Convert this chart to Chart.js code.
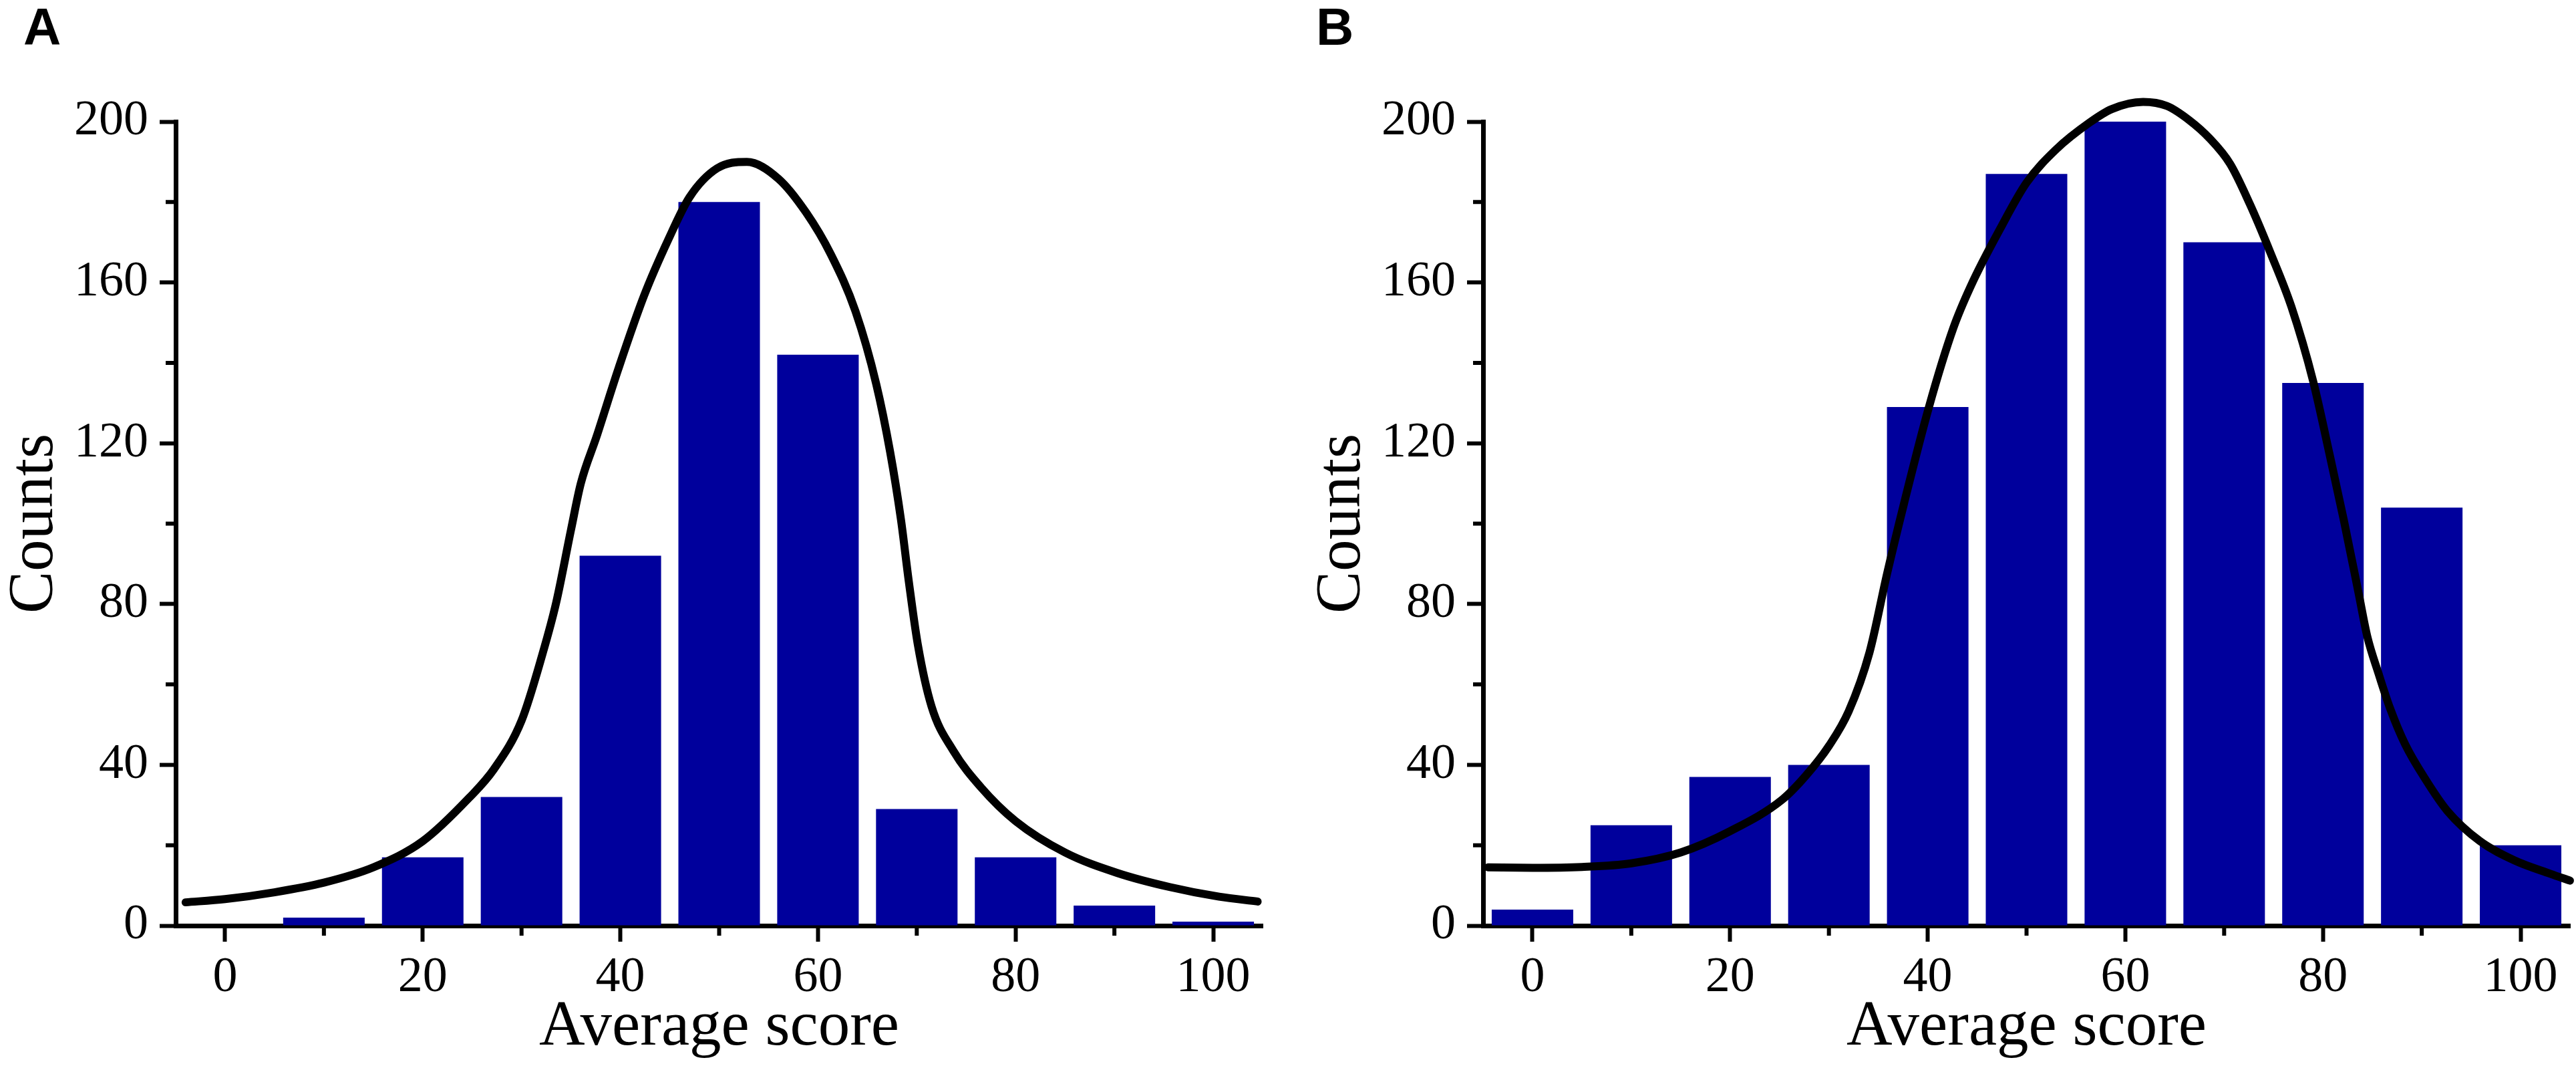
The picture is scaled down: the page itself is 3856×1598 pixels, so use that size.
<!DOCTYPE html>
<html>
<head>
<meta charset="utf-8">
<script src="https://cdn.jsdelivr.net/npm/chart.js@4.4.1/dist/chart.umd.min.js"></script>
<style>
  html, body { margin: 0; padding: 0; background: #fff; }
  #wrap { position: relative; width: 3856px; height: 1598px; overflow: hidden; background: #fff; }
  canvas { position: absolute; top: 0; }
  #panelA { left: 0; }
  #panelB { left: 1957px; }
</style>
</head>
<body>
<div id="wrap">
  <canvas id="panelA" width="1928" height="1598"></canvas>
  <canvas id="panelB" width="1899" height="1598"></canvas>
</div>
<script>
// histogram bins (average score) and counts per panel
const scoreBins = [0, 10, 20, 30, 40, 50, 60, 70, 80, 90, 100];
const countsA = [0, 2, 17, 32, 92, 180, 142, 29, 17, 5, 1];
const countsB = [4, 25, 37, 40, 129, 187, 200, 170, 135, 104, 20];

// fitted curves
const fitAx = [-4, 0, 5, 10, 15, 20, 24.7, 27.2, 30, 32.1, 33.5, 35, 36, 37.6, 39.8, 42.4, 44.9, 47, 49.8, 52.8,
               56, 58.8, 61.3, 63.8, 65.9, 67.3, 68.4, 69.2, 70.1, 71.5, 73.7, 76.5, 80, 85, 90.3, 95.6, 100.6, 104.5];
const fitAy = [5.8, 6.6, 8.3, 10.7, 14.5, 21, 31.8, 38.9, 51, 67.4, 80.3, 98.4, 110, 121.7, 138.5, 156.7, 170.9, 181.2, 188.4, 190,
               185.8, 177.4, 167, 152.8, 134.7, 117.9, 101, 85.5, 70, 54.5, 43.5, 34.4, 26, 18.2, 13.1, 9.6, 7.2, 6];
const fitBx = [-4.5, 0, 5, 10, 15, 20, 25.3, 27.7, 30, 32, 34.1, 35.9, 37.6, 40.1, 42.6, 44.4, 47.3, 50, 53, 56.4, 58.6, 61.8,
               64.2, 66.5, 68.5, 70.6, 72.6, 74.7, 76.8, 79, 80.7, 82.1, 83.6, 84.5, 85.6, 86.8, 88.3, 90.4, 92.6, 95.9, 99.4, 103, 105];
const fitBy = [14.5, 14.4, 14.6, 15.5, 18.2, 23.5, 31.4, 37.4, 44.7, 53.3, 67.9, 87.7, 105, 128.8, 148.7, 159.3, 173.2, 184.8, 193.1, 199.8, 203.1, 204.9,
               203.9, 200.3, 195.9, 189.5, 179.5, 167.3, 154, 135.5, 116.9, 101, 82.8, 71.8, 62.9, 54, 45.2, 36.3, 28.5, 21, 16.2, 12.9, 11.2];

// axis ticks
const yMajorTicks = [0, 40, 80, 120, 160, 200];
const yMinorTicks = [20, 60, 100, 140, 180];
const xMajorTicks = [0, 20, 40, 60, 80, 100];
const xMinorTicks = [10, 30, 50, 70, 90];

const serif = '"Liberation Serif", "Times New Roman", serif';
const tickFont = { family: serif, size: 74 };
const titleFont = { family: serif, size: 95, lineHeight: 1 };

// short minor ticks + panel letter
const panelDecor = {
    id: 'panelDecor',
    afterDraw(chart, args, opts) {
        const { ctx, chartArea, scales: { x, y } } = chart;
        ctx.save();
        ctx.strokeStyle = '#000';
        ctx.lineWidth = 6;
        ctx.beginPath();
        yMinorTicks.forEach(v => {
            const py = y.getPixelForValue(v);
            ctx.moveTo(chartArea.left, py);
            ctx.lineTo(chartArea.left - 15, py);
        });
        xMinorTicks.forEach(v => {
            const px = x.getPixelForValue(v);
            ctx.moveTo(px, chartArea.bottom);
            ctx.lineTo(px, chartArea.bottom + 15);
        });
        ctx.stroke();
        ctx.fillStyle = '#000';
        ctx.font = 'bold 78px "Liberation Sans", Arial, sans-serif';
        ctx.textBaseline = 'alphabetic';
        ctx.fillText(opts.letter, opts.lx, 67);
        ctx.restore();
    }
};

function makePanel(canvasId, counts, fitX, fitY, padRight, letter, lx) {
    const axisGrid = { drawOnChartArea: false, drawTicks: true, tickLength: 24, tickWidth: 6, tickColor: '#000', offset: false };
    const axisBorder = { display: true, color: '#000', width: 7 };

    new Chart(document.getElementById(canvasId), {
        type: 'bar',
        data: {
            datasets: [
                {
                    type: 'line',
                    data: fitX.map((x, i) => ({ x: x, y: fitY[i] })),
                    borderColor: '#000',
                    borderWidth: 12,
                    pointRadius: 0,
                    cubicInterpolationMode: 'monotone',
                    borderCapStyle: 'round',
                    borderJoinStyle: 'round',
                    clip: false,
                    order: 0
                },
                {
                    type: 'bar',
                    data: scoreBins.map((x, i) => ({ x: x, y: counts[i] })),
                    backgroundColor: '#00009C',
                    borderWidth: 0,
                    barPercentage: 0.825,
                    categoryPercentage: 1,
                    order: 1
                }
            ]
        },
        options: {
            responsive: false,
            animation: false,
            layout: { padding: { top: 182, right: padRight, bottom: 0, left: 0 } },
            plugins: {
                legend: { display: false },
                tooltip: { enabled: false },
                panelDecor: { letter: letter, lx: lx }
            },
            scales: {
                x: {
                    type: 'linear',
                    min: -5,
                    max: 105,
                    offset: false,
                    z: 1,
                    afterFit: s => { s.height = 213; },
                    afterBuildTicks: s => { s.ticks = xMajorTicks.map(v => ({ value: v })); },
                    grid: axisGrid,
                    border: axisBorder,
                    ticks: { color: '#000', font: tickFont, padding: 10, maxRotation: 0, autoSkip: false },
                    title: { display: true, text: 'Average score', color: '#000', font: titleFont, padding: { top: 0, bottom: 12 } }
                },
                y: {
                    type: 'linear',
                    min: 0,
                    max: 200,
                    z: 1,
                    afterFit: s => { s.width = 263; },
                    afterBuildTicks: s => { s.ticks = yMajorTicks.map(v => ({ value: v })); },
                    grid: axisGrid,
                    border: axisBorder,
                    ticks: { color: '#000', font: tickFont, padding: 17 },
                    title: { display: true, text: 'Counts', color: '#000', font: titleFont, padding: { top: 6, bottom: 0 } }
                }
            }
        },
        plugins: [panelDecor]
    });
}

makePanel('panelA', countsA, fitAx, fitAy, 38, 'A', 35);
makePanel('panelB', countsB, fitBx, fitBy, 9, 'B', 13);
</script>
</body>
</html>
